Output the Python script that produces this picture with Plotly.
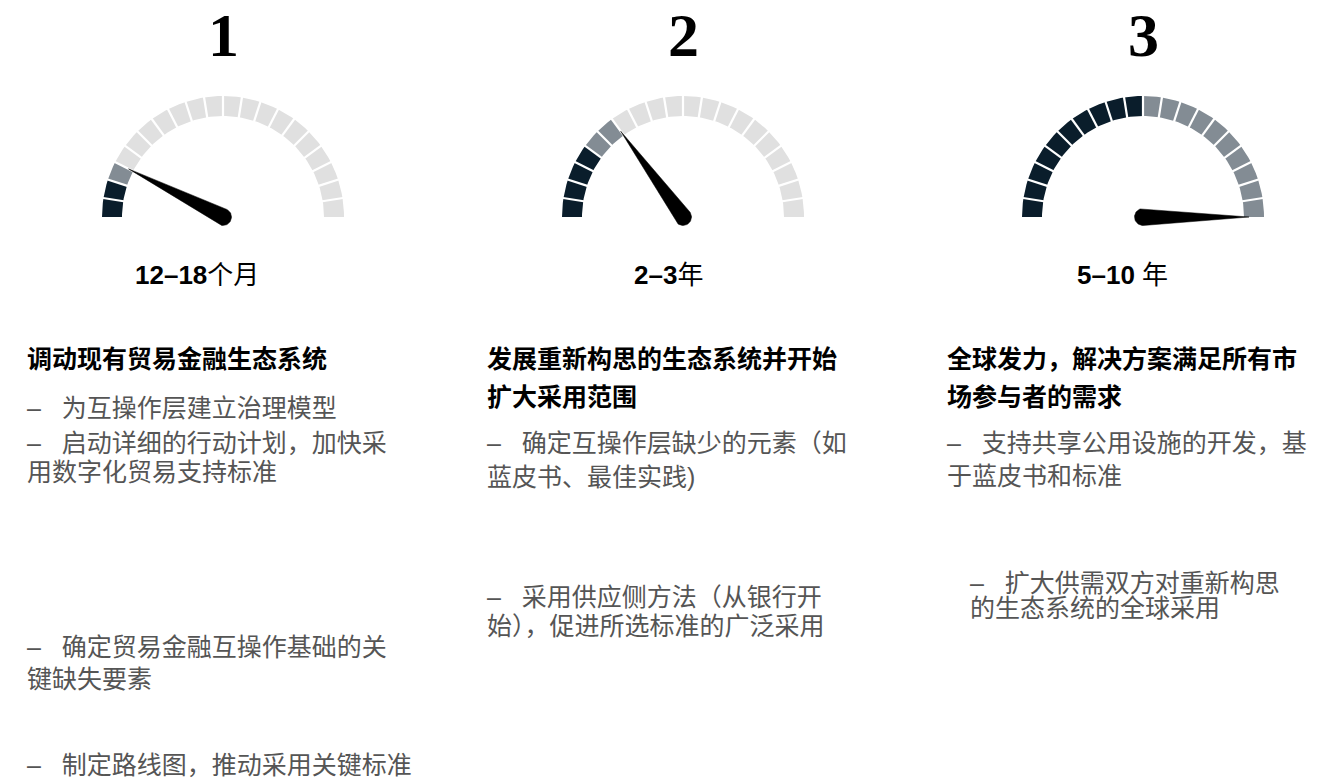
import numpy as np
import plotly.graph_objects as go

# ---------------- data ----------------
stages = ["1", "2", "3"]
durations_bold = ["12–18", "2–3", "5–10"]
durations_unit = ["个月", "年", " 年"]
total_segments = 20
dark_counts = [2, 4, 10]
gray_counts = [1, 2, 10]
needle_values = [3, 6, 20]

headings = [
    ["调动现有贸易金融生态系统"],
    ["发展重新构思的生态系统并开始", "扩大采用范围"],
    ["全球发力，解决方案满足所有市", "场参与者的需求"],
]
bullets = [
    [["–   为互操作层建立治理模型"],
     ["–   启动详细的行动计划，加快采", "用数字化贸易支持标准"],
     ["–   确定贸易金融互操作基础的关", "键缺失要素"],
     ["–   制定路线图，推动采用关键标准"]],
    [["–   确定互操作层缺少的元素（如", "蓝皮书、最佳实践)"],
     ["–   采用供应侧方法（从银行开", "始），促进所选标准的广泛采用"]],
    [["–   支持共享公用设施的开发，基", "于蓝皮书和标准"],
     ["–   扩大供需双方对重新构思", "的生态系统的全球采用"]],
]

# ---------------- layout constants ----------------
W, H = 1342, 783
gauge_cx = [223, 683, 1143]
gauge_cy = 217
r_in, r_out = 101, 121
needle_len = 106
needle_base = 8.5
DARK, GRAY, LIGHT = "#0a1d2b", "#838c94", "#e0e0e0"
number_y = 35
duration_x = [197, 668, 1122]
duration_y = 275
col_x = [25, 485, 945]
heading_y = [[357], [357, 395], [357, 395]]
bullet_y = [
    [[408], [443, 472], [647, 679], [765]],
    [[443, 477], [597, 626]],
    [[443, 476], [583, 608]],
]
bullet_x_extra = [[0, 0, 0, 0], [0, 0], [0, 23]]
TXT = 25

fig = go.Figure()

def pt(cx, cy, r, a):
    return cx + r * np.cos(a), cy - r * np.sin(a)

step = np.pi / total_segments
for g in range(3):
    cx = gauge_cx[g]
    for k in range(total_segments):
        if k < dark_counts[g]:
            col = DARK
        elif k < dark_counts[g] + gray_counts[g]:
            col = GRAY
        else:
            col = LIGHT
        a0 = np.pi - k * step
        a1 = np.pi - (k + 1) * step
        angs = np.linspace(a0, a1, 12)
        xo, yo = pt(cx, gauge_cy, r_out, angs)
        xi, yi = pt(cx, gauge_cy, r_in, angs[::-1])
        xs = np.concatenate([xo, xi, xo[:1]])
        ys = np.concatenate([yo, yi, yo[:1]])
        fig.add_trace(go.Scatter(x=xs, y=ys, mode="lines", fill="toself",
                                 fillcolor=col, line=dict(width=0, color=col),
                                 hoverinfo="skip", showlegend=False))
    # white gaps
    for k in range(1, total_segments):
        a = np.pi - k * step
        x0, y0 = pt(cx, gauge_cy, r_in - 2, a)
        x1, y1 = pt(cx, gauge_cy, r_out + 2, a)
        fig.add_trace(go.Scatter(x=[x0, x1], y=[y0, y1], mode="lines",
                                 line=dict(color="white", width=2.2),
                                 hoverinfo="skip", showlegend=False))
    # needle
    a = np.pi - needle_values[g] * step
    tx, ty = pt(cx, gauge_cy, needle_len, a)
    back = np.linspace(a + np.pi / 2, a + 3 * np.pi / 2, 30)
    bx, by = pt(cx, gauge_cy, needle_base, back)
    xs = np.concatenate([[tx], bx, [tx]])
    ys = np.concatenate([[ty], by, [ty]])
    fig.add_trace(go.Scatter(x=xs, y=ys, mode="lines", fill="toself",
                             fillcolor="black", line=dict(width=0.5, color="black"),
                             hoverinfo="skip", showlegend=False))

annotations = []
for g in range(3):
    annotations.append(dict(x=gauge_cx[g], y=number_y, text="<b>" + stages[g] + "</b>", showarrow=False,
                            xanchor="center", yanchor="middle",
                            font=dict(family="Liberation Serif", size=62, color="black")))
    annotations.append(dict(x=duration_x[g], y=duration_y,
                            text="<b>" + durations_bold[g] + "</b>" + durations_unit[g],
                            showarrow=False, xanchor="center", yanchor="middle",
                            font=dict(family="Liberation Sans, Noto Sans CJK SC", size=26, color="black")))
    for i, line in enumerate(headings[g]):
        annotations.append(dict(x=col_x[g], y=heading_y[g][i], text="<b>" + line + "</b>",
                                showarrow=False, xanchor="left", yanchor="middle",
                                font=dict(family="Noto Sans CJK SC", size=TXT, color="black")))
    for b, blines in enumerate(bullets[g]):
        for i, line in enumerate(blines):
            annotations.append(dict(x=col_x[g] + bullet_x_extra[g][b], y=bullet_y[g][b][i], text=line,
                                    showarrow=False, xanchor="left", yanchor="middle",
                                    font=dict(family="Liberation Sans, Noto Sans CJK SC", size=TXT, color="#555555")))

fig.update_layout(
    width=W, height=H, margin=dict(l=0, r=0, t=0, b=0),
    paper_bgcolor="white", plot_bgcolor="white",
    xaxis=dict(range=[0, W], visible=False, fixedrange=True),
    yaxis=dict(range=[H, 0], visible=False, fixedrange=True),
    annotations=annotations, showlegend=False,
)
fig.write_html("out.html", config={"displayModeBar": False})
